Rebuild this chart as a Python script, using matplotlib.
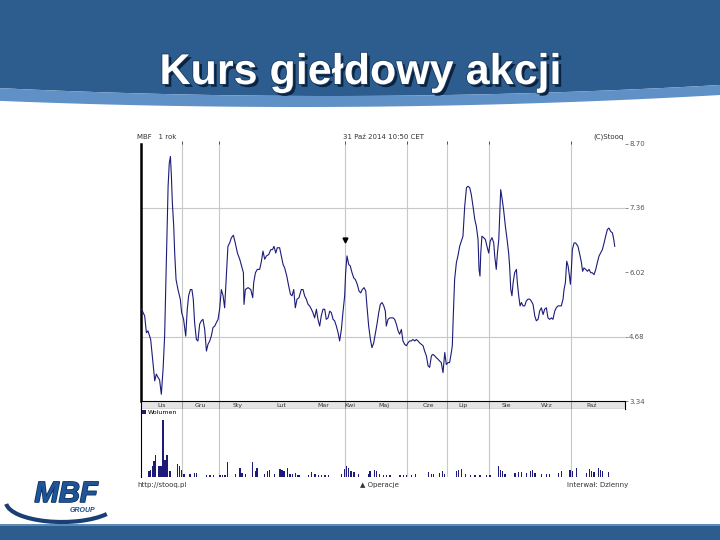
import numpy as np
import matplotlib.pyplot as plt
from matplotlib import patheffects
from matplotlib.patches import Rectangle, Arc

plt.rcParams['font.family'] = ['DejaVu Sans']

# kurs akcji MBF (dni sesyjne od 31.10.2013)
dni = [0.2, 1.9, 2.8, 3.6, 5.0, 6.2, 7.1, 7.9, 8.8, 9.6, 10.5, 11.4, 12.2, 13.1, 14.0, 14.6, 15.2, 15.7,
       16.2, 16.9, 17.4, 18.1, 19.1, 20.3, 21.0, 22.0, 23.1, 23.9, 24.6, 25.5, 26.3, 27.0, 27.7, 28.6,
       29.4, 30.3, 31.2, 32.0, 32.9, 33.8, 34.6, 35.5, 36.3, 37.2, 38.1, 38.9, 39.8, 40.6, 41.5, 42.4,
       43.2, 44.1, 44.9, 45.8, 46.7, 47.7, 48.7, 49.8, 51.0, 52.2, 52.9, 53.2, 53.9, 55.3, 56.7, 57.7,
       58.2, 59.1, 60.1, 61.3, 62.2, 63.0, 63.9, 64.8, 66.0, 67.0, 67.9, 68.7, 69.6, 70.4, 71.6, 72.5,
       73.4, 74.2, 75.3, 76.3, 77.2, 78.0, 78.9, 79.7, 80.6, 81.6,
       82.8, 83.7, 84.5, 85.4, 86.3, 87.1, 88.0, 88.8, 89.7, 90.6, 91.4, 92.3, 93.1, 94.0, 94.9, 95.7,
       96.6, 97.5, 98.3, 99.2, 100.0, 100.9, 101.8, 102.6, 103.5, 104.3, 105.2, 105.7, 106.4, 107.3,
       108.1, 109.0, 109.9, 110.7, 111.7, 112.6, 113.5, 114.3, 115.2, 116.1, 116.7, 117.6, 118.5, 119.3,
       120.2, 121.0, 121.9, 122.8, 123.6, 124.5, 125.4, 126.2, 126.7, 127.6, 128.5, 129.3, 130.2, 131.0,
       131.9, 132.8, 133.6, 134.5, 135.3, 136.2, 137.1, 137.9, 138.8, 139.6, 140.5, 141.4, 142.2, 143.1,
       143.9, 144.8, 145.7, 146.5, 147.4, 148.3, 149.1, 150.0, 150.8, 151.7, 152.6, 153.4, 154.3, 155.1,
       156.0, 156.9, 157.7, 158.6, 159.4, 160.3, 160.8, 161.3, 162.0, 162.9,
       163.7, 164.6, 165.5, 166.3, 166.8, 167.2, 168.1, 168.9, 169.8, 170.6, 171.5, 172.4, 173.2, 174.1,
       174.6, 175.1, 175.5, 176.1, 177.0, 177.9, 178.7, 179.6, 180.4, 181.3, 182.2, 182.7, 183.5, 184.1,
       184.8, 185.4, 185.8, 186.6, 187.3, 188.2, 189.1, 189.9, 190.4, 191.0, 191.6, 192.2, 193.0, 193.9,
       194.4, 195.1, 195.8, 196.5, 197.3, 198.2, 199.0, 199.9, 200.8, 201.6, 202.5, 203.4, 204.2, 205.1,
       205.9, 206.8, 207.7, 208.5, 209.4, 210.2, 211.1, 212.0, 212.8, 213.7, 214.5, 215.4, 216.3, 217.1,
       218.0, 218.5, 219.2, 219.9, 220.6, 221.3, 221.8, 222.3, 222.8, 223.7, 224.5, 225.7, 226.8, 227.5,
       228.1, 228.8, 229.7, 230.6, 231.4, 232.3, 233.1, 234.0, 234.9, 235.7, 236.6, 237.4, 238.3, 239.2,
       240.0, 240.9, 241.7, 242.6, 243.5, 244.2, 244.7]
kurs = [5.26, 5.11, 4.76, 4.80, 4.62, 4.14, 3.76, 3.90, 3.83, 3.78, 3.48, 4.00, 4.69, 6.22, 7.81, 8.29, 8.43, 8.02,
        7.46, 6.98, 6.42, 5.87, 5.66, 5.46, 5.18, 5.04, 4.69, 5.25, 5.53, 5.66, 5.66, 5.46, 4.97, 4.62,
        4.59, 4.94, 5.01, 5.04, 4.83, 4.38, 4.52, 4.59, 4.69, 4.87, 4.90, 4.97, 5.04, 5.25, 5.66, 5.53,
        5.28, 5.94, 6.56, 6.63, 6.74, 6.79, 6.63, 6.42, 6.29, 6.11, 6.01, 5.35, 5.66, 5.70, 5.66, 5.49,
        5.80, 6.01, 6.08, 6.08, 6.25, 6.46, 6.29, 6.36, 6.39, 6.49, 6.49, 6.56, 6.42, 6.53, 6.53, 6.36,
        6.18, 6.11, 5.94, 5.73, 5.56, 5.53, 5.66, 5.28, 5.46, 5.49,
        5.66, 5.66, 5.53, 5.46, 5.35, 5.32, 5.25, 5.18, 5.07, 5.25, 5.04, 4.90, 5.11, 5.25, 5.25, 5.04,
        5.07, 5.21, 5.18, 5.04, 5.01, 4.90, 4.76, 4.59, 4.83, 5.18, 5.53, 6.01, 6.36, 6.18,
        6.15, 6.01, 5.90, 5.87, 5.77, 5.63, 5.59, 5.66, 5.70, 5.63, 5.32, 4.90, 4.62, 4.45,
        4.55, 4.73, 4.94, 5.18, 5.35, 5.39, 5.32, 5.21, 4.90, 5.04, 5.07, 5.07, 5.07, 5.04,
        4.94, 4.80, 4.73, 4.83, 4.59, 4.52, 4.49, 4.55, 4.59, 4.59, 4.62, 4.59, 4.62, 4.59,
        4.55, 4.52, 4.49, 4.38, 4.28, 4.07, 4.04, 4.28, 4.31, 4.28, 4.24, 4.21, 4.17, 4.14,
        3.93, 4.35, 4.10, 4.14, 4.14, 4.35, 4.49, 5.11, 5.87, 6.22,
        6.36, 6.56, 6.67, 6.77, 7.12, 7.39, 7.78, 7.81, 7.78, 7.64, 7.39, 7.12, 6.98, 6.70,
        6.08, 5.94, 6.42, 6.77, 6.74, 6.70, 6.56, 6.42, 6.67, 6.74, 6.63, 6.36, 6.08, 6.42,
        6.70, 7.32, 7.74, 7.53, 7.32, 6.98, 6.70, 6.42, 6.15, 5.66, 5.53, 5.80, 6.01, 6.08,
        5.80, 5.53, 5.32, 5.39, 5.32, 5.32, 5.42, 5.46, 5.46, 5.42, 5.35, 5.11, 5.01, 5.04,
        5.21, 5.28, 5.14, 5.25, 5.28, 5.07, 5.04, 5.07, 5.04, 5.21, 5.28, 5.32, 5.32, 5.32,
        5.46, 5.66, 5.80, 6.25, 6.15, 5.94, 5.77, 6.08, 6.49, 6.63, 6.63, 6.56, 6.36, 6.22,
        6.04, 6.11, 6.08, 6.04, 6.08, 6.01, 6.01, 5.97, 6.08, 6.22, 6.36, 6.42, 6.49, 6.63,
        6.77, 6.91, 6.94, 6.87, 6.84, 6.70, 6.56]

# wolumen (jednostki umowne)
wol_dni = [4.1, 5.0, 5.9, 6.7, 7.6, 9.3, 10.3, 11.4, 12.4, 13.4, 15.0, 18.8, 20.1, 21.0, 22.2, 25.3, 27.7, 28.7,
           33.9, 35.6, 37.4, 40.8, 42.2, 43.4, 44.6, 48.6, 51.1, 52.2, 54.1, 57.7, 59.1, 59.9, 63.9, 65.3,
           66.3, 68.9, 71.8, 72.8, 73.9, 75.6, 77.0, 78.3, 79.9, 80.7, 81.6, 86.4, 88.2, 89.9, 91.6, 93.3,
           95.0, 96.8, 103.6, 105.0, 106.2, 107.1, 108.5, 110.0, 112.3, 117.4, 118.3, 120.5, 121.7, 123.4,
           125.2, 126.9, 128.6, 133.8, 135.5, 137.2, 139.8, 142.0, 148.4, 150.1, 151.3, 154.4, 155.6, 156.7,
           163.0, 164.1, 165.6, 167.4, 170.0, 172.5, 175.1, 178.5, 180.3, 184.6, 185.8, 186.8, 188.0, 193.2,
           194.9, 196.6, 199.2, 201.0, 202.3, 203.5, 207.0, 209.5, 210.9, 215.6, 217.3, 221.6, 223.0, 225.0,
           230.2, 231.6, 232.8, 234.0, 236.2, 237.4, 238.5, 241.4]
wol = [17, 22, 32, 49, 67, 32, 34, 170, 50, 67, 17, 40, 32, 22, 10, 10, 12, 12,
       5, 5, 5, 5, 5, 6, 44, 10, 27, 12, 10, 44, 17, 27, 10, 17,
       20, 10, 24, 22, 17, 27, 10, 10, 12, 6, 6, 6, 14, 8, 6, 6,
       5, 5, 10, 24, 34, 27, 17, 14, 10, 10, 17, 22, 17, 10,
       6, 6, 6, 5, 5, 5, 6, 8, 14, 10, 10, 12, 17, 10,
       17, 22, 24, 10, 6, 6, 6, 6, 6, 32, 22, 17, 10, 12,
       14, 14, 12, 17, 20, 12, 10, 10, 10, 12, 17, 20, 17, 27,
       12, 24, 17, 14, 27, 22, 17, 14]

siatka_dni = [21.2, 40.3, 105.4, 137.4, 158.0, 179.7, 222.1]
miesiace = ["Lis", "Gru", "Sty", "Lut", "Mar", "Kwi", "Maj", "Cze", "Lip", "Sie", "Wrz", "Paź"]
miesiace_dni = [10.8, 30.5, 50.1, 72.3, 94.0, 108.0, 125.5, 148.2, 166.3, 188.5, 209.7, 233.0]
poziomy = [8.70, 7.36, 6.02, 4.68, 3.34]
operacja_dzien = [105.4]
operacja_kurs = [6.70]

GRANAT = '#1c1c78'
SZARY = '#c8c8c8'
TLO_NAGL = '#2c5d8e'


def px(x, y):
    return x / 720, 1 - y / 540


fig = plt.figure(figsize=(7.2, 5.4), dpi=100)

# tlo slajdu
bg = fig.add_axes([0, 0, 1, 1], zorder=-10)
bg.set_xlim(0, 720)
bg.set_ylim(540, 0)
bg.axis('off')
xs = np.linspace(0, 720, 200)
dol_ciemny = 85 + 11 * (1 - ((xs - 330) / 390) ** 2)
dol_jasny = 95 + 12 * (1 - ((xs - 300) / 420) ** 2)
bg.fill_between(xs, 0, dol_ciemny, color=TLO_NAGL, lw=0)
bg.fill_between(xs, dol_ciemny, dol_jasny, color='#5f90c6', lw=0)
bg.add_patch(Rectangle((0, 526), 720, 14, color=TLO_NAGL, lw=0))
bg.add_patch(Rectangle((0, 524), 720, 2, color='#5f8bb8', lw=0))

# logo
bg.add_patch(Arc((62, 502), 112, 40, theta1=15, theta2=178, color='#1a3f75', lw=3))
bg.text(66, 494, 'MBF', fontsize=21, style='italic', weight='bold', color='#1f5597',
        ha='center', va='center', family='Liberation Sans',
        path_effects=[patheffects.withStroke(linewidth=1.2, foreground='#0d3264')])
bg.text(82, 511, 'GROUP', fontsize=5, style='italic', weight='bold', color='#1f4f8f',
        ha='center', va='center', family='Liberation Sans')

# tytul
fig.text(*px(360, 84), 'Kurs giełdowy akcji', fontsize=31, weight='bold', color='white',
         ha='center', va='baseline', family='Liberation Sans',
         path_effects=[patheffects.withSimplePatchShadow(offset=(2, -2), shadow_rgbFace='#0b2340', alpha=1),
                       patheffects.withStroke(linewidth=1.2, foreground='#1d3f66')])

# wykres kursu
lewa, szer = 141 / 720, 484 / 720
ax = fig.add_axes([lewa, 1 - 401 / 540, szer, 257.5 / 540])
for d in siatka_dni:
    ax.axvline(d, color=SZARY, lw=0.8, zorder=1)
for v in poziomy[1::2][:2]:
    ax.axhline(v, color=SZARY, lw=0.8, zorder=1)
ax.plot(dni, kurs, color=GRANAT, lw=0.8, zorder=3)
ax.plot(operacja_dzien, operacja_kurs, marker='v', color='black', ms=3.5, ls='none', zorder=4)
ax.set_xlim(0, 250)
ax.set_ylim(3.34, 8.70)
ax.yaxis.tick_right()
ax.set_yticks(poziomy)
ax.set_yticklabels([f'{v:.2f}' for v in poziomy], fontsize=5, color='#555555')
ax.tick_params(axis='y', length=2, pad=1, color='#777777', width=0.6)
ax.xaxis.tick_top()
ax.set_xticks(siatka_dni)
ax.set_xticklabels([])
ax.tick_params(axis='x', length=2, color='#333333', width=0.6)
for s in ['top', 'right', 'bottom']:
    ax.spines[s].set_visible(False)
ax.spines['left'].set_linewidth(1.8)

# pasek z miesiacami
pas = fig.add_axes([lewa, 1 - 409 / 540, szer, 8 / 540], facecolor='#e4e4e4')
pas.set_xlim(0, 250)
pas.set_ylim(0, 1)
pas.set_xticks([])
pas.set_yticks([])
for d in siatka_dni:
    pas.axvline(d, color='#999999', lw=0.7)
for m, d in zip(miesiace, miesiace_dni):
    pas.text(d, 0.45, m, ha='center', va='center', fontsize=4.5, color='#333333')
for s in pas.spines.values():
    s.set_linewidth(0.8)

# wolumen
wax = fig.add_axes([lewa, 1 - 477 / 540, szer, 68 / 540])
for d in siatka_dni:
    wax.axvline(d, color=SZARY, lw=0.8, zorder=1)
wax.bar(wol_dni, wol, width=0.6, color=GRANAT, zorder=3, label='Wolumen')
wax.set_xlim(0, 250)
wax.set_ylim(0, 204)
wax.set_xticks([])
wax.set_yticks([])
for s in ['top', 'right', 'bottom']:
    wax.spines[s].set_visible(False)
wax.spines['left'].set_linewidth(0.8)
wax.legend(loc='upper left', fontsize=4.5, frameon=False, handlelength=0.6, handleheight=0.6,
           handletextpad=0.3, borderpad=0.1, borderaxespad=0.1)

# opisy wykresu
opis = dict(fontsize=5, color='#333333', va='center')
fig.text(*px(137, 137), 'MBF   1 rok', ha='left', **opis)
fig.text(*px(343, 137), '31 Paź 2014 10:50 CET', ha='left', **opis)
fig.text(*px(624, 137), '(C)Stooq', ha='right', **opis)
fig.text(*px(137, 485), 'http://stooq.pl', ha='left', **opis)
fig.text(*px(360, 485), '▲ Operacje', ha='left', **opis)
fig.text(*px(628, 485), 'Interwał: Dzienny', ha='right', **opis)

fig.savefig('out.png', dpi=100)
